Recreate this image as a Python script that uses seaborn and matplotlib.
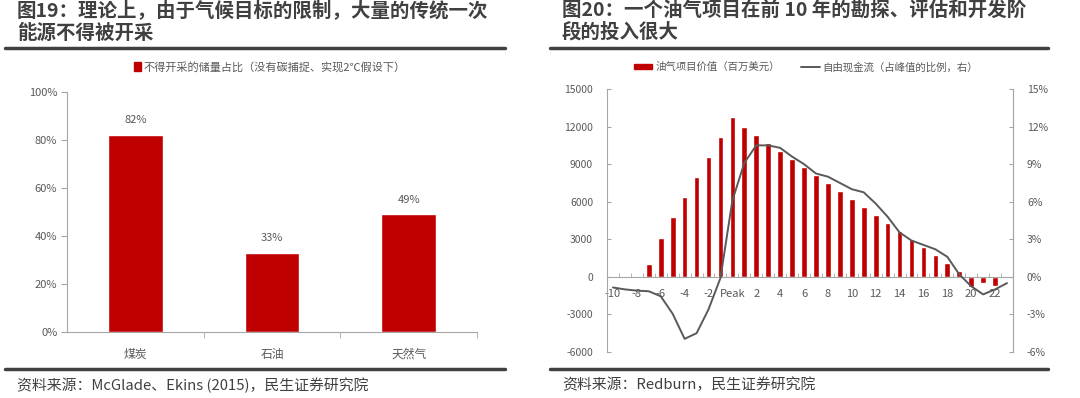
import numpy as np
import pandas as pd
import seaborn as sns
import matplotlib.pyplot as plt
from matplotlib.patches import Patch
from matplotlib.lines import Line2D
from matplotlib.ticker import FixedLocator, PercentFormatter

sns.set_style("white")
plt.rcParams['font.family'] = ['Noto Sans CJK SC', 'DejaVu Sans']
plt.rcParams['axes.unicode_minus'] = False

RED = "#C00000"
GREY_LINE = "#595959"
TXT = "#595959"
AXC = "#A6A6A6"

# Figure 19 data
fuel = ["煤炭", "石油", "天然气"]
unburnable = [0.82, 0.33, 0.49]

# Figure 20 data
periods = [str(i) for i in range(-10, 0)] + ["Peak"] + [str(i) for i in range(1, 24)]
project_value = [0, -50, 0, 1000, 3100, 4800, 6400, 8000, 9600, 11150, 12780,
                 11950, 11330, 10690, 10080, 9420, 8790, 8170, 7500, 6880, 6250,
                 5600, 4930, 4290, 3680, 3030, 2390, 1740, 1110, 440, -800, -520,
                 -700, 0]
fcf_share = [-0.85, -1.0, -1.1, -1.15, -1.55, -2.95, -4.95, -4.5, -2.6, -0.1,
             6.1, 9.1, 10.5, 10.5, 10.3, 9.6, 9.0, 8.25, 8.0, 7.5, 7.0, 6.75,
             5.85, 4.8, 3.55, 2.9, 2.55, 2.2, 1.6, 0.2, -0.75, -1.4, -1.0, -0.5]

fig = plt.figure(figsize=(10.8, 3.98), dpi=100)

# titles, rules, sources
fig.text(17 / 1080, 1 - 1 / 398, "图19：理论上，由于气候目标的限制，大量的传统一次\n能源不得被开采",
         ha="left", va="top", fontsize=14, fontweight="bold", color="#404040", linespacing=1.15)
fig.text(562 / 1080, 1 - 1 / 398, "图20：一个油气项目在前 10 年的勘探、评估和开发阶\n段的投入很大",
         ha="left", va="top", fontsize=14, fontweight="bold", color="#404040", linespacing=1.15)
for x0, x1 in [(5, 505), (550, 1048)]:
    for y in (48, 369):
        fig.add_artist(Line2D([x0 / 1080, x1 / 1080], [1 - y / 398] * 2,
                              color="#404040", lw=2.5, transform=fig.transFigure))
fig.text(17 / 1080, 1 - 385 / 398, "资料来源：McGlade、Ekins (2015)，民生证券研究院",
         ha="left", va="center", fontsize=10.7, color="#404040")
fig.text(562 / 1080, 1 - 385 / 398, "资料来源：Redburn，民生证券研究院",
         ha="left", va="center", fontsize=10.7, color="#404040")

# ---- left chart
ax1 = fig.add_axes([67 / 1080, 1 - 332 / 398, 410 / 1080, 240 / 398])
df1 = pd.DataFrame({"fuel": fuel, "share": unburnable})
sns.barplot(data=df1, x="fuel", y="share", color=RED, saturation=1, width=0.4, ax=ax1)
ax1.set_ylim(0, 1)
ax1.set_xlim(-0.5, 2.5)
ax1.yaxis.set_major_locator(FixedLocator(np.arange(0, 1.01, 0.2)))
ax1.yaxis.set_major_formatter(PercentFormatter(1, decimals=0))
ax1.set_xlabel("")
ax1.set_ylabel("")
for s in ["top", "right"]:
    ax1.spines[s].set_visible(False)
for s in ["left", "bottom"]:
    ax1.spines[s].set_color(AXC)
ax1.tick_params(axis="y", left=True, length=4, color=AXC, labelsize=8, labelcolor=TXT, pad=3)
ax1.tick_params(axis="x", bottom=False, labelsize=8.5, labelcolor=TXT, pad=8)
ax1.xaxis.set_minor_locator(FixedLocator([0.5, 1.5, 2.5]))
ax1.tick_params(axis="x", which="minor", bottom=True, length=4, color=AXC)
for i, v in enumerate(unburnable):
    ax1.annotate(f"{v:.0%}", (i, v), xytext=(0, 7), textcoords="offset points",
                 ha="center", va="bottom", fontsize=8, color=TXT)
ax1.legend(handles=[Patch(color=RED, label="不得开采的储量占比（没有碳捕捉、实现2℃假设下）")],
           loc="center", bbox_to_anchor=(0.495, 1 + 25 / 240), frameon=False,
           fontsize=8, labelcolor=TXT, handlelength=0.6, handleheight=0.8, handletextpad=0.3)

# ---- right chart
ax2 = fig.add_axes([607 / 1080, 1 - 352 / 398, 406 / 1080, 263 / 398])
df2 = pd.DataFrame({"period": periods, "value": project_value, "fcf": fcf_share})
df2["pos"] = np.arange(len(df2))
sns.barplot(data=df2, x="period", y="value", order=periods, color=RED, saturation=1,
            width=0.48, ax=ax2)
ax2.set_ylim(-6000, 15000)
ax2.set_xlim(-0.5, len(periods) - 0.5)
ax2.yaxis.set_major_locator(FixedLocator(np.arange(-6000, 15001, 3000)))
ax2.set_xlabel("")
ax2.set_ylabel("")
ax2.set_xticks(df2["pos"][::2])
ax2.set_xticklabels(periods[::2])
ax2.xaxis.set_minor_locator(FixedLocator(df2["pos"].to_numpy()[:-1] + 0.5))
ax2.spines["bottom"].set_position(("data", 0))
ax2.spines["top"].set_visible(False)
for s in ["left", "bottom", "right"]:
    ax2.spines[s].set_color(AXC)
ax2.tick_params(axis="x", which="major", bottom=False, labelsize=8, labelcolor=TXT, pad=5)
ax2.tick_params(axis="x", which="minor", bottom=True, direction="in", length=3, color=AXC)
ax2.tick_params(axis="y", left=True, direction="in", length=3, color=AXC,
                labelsize=7.5, labelcolor=TXT, pad=10)

ax3 = ax2.twinx()
sns.lineplot(data=df2, x="pos", y="fcf", color=GREY_LINE, lw=1.4, ax=ax3)
ax3.set_ylim(-6, 15)
ax3.set_xlim(-0.5, len(periods) - 0.5)
ax3.yaxis.set_major_locator(FixedLocator(np.arange(-6, 15.1, 3)))
ax3.yaxis.set_major_formatter(PercentFormatter(100, decimals=0))
ax3.set_ylabel("")
ax3.set_xlabel("")
for s in ["top", "left", "bottom"]:
    ax3.spines[s].set_visible(False)
ax3.spines["right"].set_color(AXC)
ax3.tick_params(axis="y", right=True, direction="in", length=3, color=AXC,
                labelsize=7.5, labelcolor=TXT, pad=10)

handles = [Patch(color=RED, label="油气项目价值（百万美元）"),
           Line2D([], [], color=GREY_LINE, lw=1.4, label="自由现金流（占峰值的比例，右）")]
ax2.legend(handles=handles, loc="center", bbox_to_anchor=(0.49, 1 + 22 / 263), ncol=2,
           frameon=False, fontsize=7.5, labelcolor=TXT, handlelength=1.8, handleheight=0.5,
           handletextpad=0.3, columnspacing=2.0)

fig.savefig("out.png", dpi=100)
